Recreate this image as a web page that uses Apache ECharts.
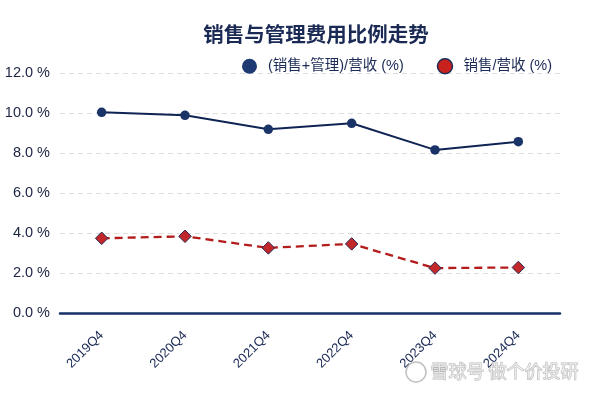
<!DOCTYPE html>
<html><head><meta charset="utf-8">
<script src="https://cdn.jsdelivr.net/npm/echarts@6/dist/echarts.min.js"></script>
<style>html,body{margin:0;padding:0;background:#fff}#c{width:599px;height:394px}</style>
</head><body><div id="c"></div>
<script>
var categories = ['2019Q4','2020Q4','2021Q4','2022Q4','2023Q4','2024Q4'];
var totalRatio = [10.05, 9.9, 9.2, 9.5, 8.17, 8.58];
var salesRatio = [3.75, 3.85, 3.27, 3.47, 2.26, 2.29];
var yTicks = {min: 0, max: 12, interval: 2};
var seriesNames = ['(销售+管理)/营收 (%)', '销售/营收 (%)'];

var cjk = '"Noto Sans CJK SC", "Noto Sans", sans-serif';
var latin = '"Liberation Sans", "Noto Sans CJK SC", sans-serif';
var chart = echarts.init(document.getElementById('c'), null, {renderer: 'canvas'});
chart.setOption({
  animation: false,
  backgroundColor: '#ffffff',
  title: {
    text: '销售与管理费用比例走势',
    left: 311, top: 19, textAlign: 'center',
    textStyle: {fontFamily: cjk, fontSize: 20.5, fontWeight: 'bold', color: '#1b2a55'}
  },
  legend: {
    top: 53, left: 237,
    itemGap: 33, itemWidth: 15, itemHeight: 15,
    textStyle: {fontFamily: latin, fontSize: 14.5, color: '#1b2a55', padding: [0,0,0,6]},
    data: [
      {name: seriesNames[0], icon: 'circle', itemStyle: {color: '#1e3a72', borderWidth: 0}},
      {name: seriesNames[1], icon: 'circle', itemStyle: {color: '#c9211e', borderColor: '#1b2a55', borderWidth: 1.5}}
    ]
  },
  grid: {left: 60, right: 39, top: 73.3, bottom: 80.7},
  xAxis: {
    type: 'category', data: categories, boundaryGap: true,
    axisLine: {lineStyle: {color: '#16306a', width: 2.5}},
    axisTick: {show: false},
    axisLabel: {rotate: 45, fontFamily: latin, fontSize: 13, color: '#1b2a55', margin: 20}
  },
  yAxis: {
    type: 'value', min: yTicks.min, max: yTicks.max, interval: yTicks.interval,
    axisLine: {show: false}, axisTick: {show: false},
    axisLabel: {fontFamily: latin, fontSize: 14.5, color: '#1b2540', margin: 10,
      formatter: function(v){ return v.toFixed(1) + ' %'; }},
    splitLine: {lineStyle: {color: '#dcdcdc', type: [5,4], width: 1}}
  },
  series: [
    {
      name: seriesNames[0], type: 'line', data: totalRatio,
      symbol: 'circle', symbolSize: 9.5,
      lineStyle: {color: '#0f2454', width: 2},
      itemStyle: {color: '#1b3468'}
    },
    {
      name: seriesNames[1], type: 'line', data: salesRatio,
      symbol: 'diamond', symbolSize: 12.5,
      lineStyle: {color: '#b41c1c', width: 2.3, type: [8,5]},
      itemStyle: {color: '#c2272a', borderColor: '#2b2a55', borderWidth: 1}
    }
  ],
  graphic: [
    {type: 'circle', z: 100, shape: {cx: 416, cy: 372, r: 10}, style: {fill: 'rgba(255,255,255,0.5)', stroke: 'rgba(140,140,140,0.55)', lineWidth: 1.5}},
    {type: 'text', z: 100, left: 430, top: 362, style: {text: '雪球号 做个价投研', fontFamily: cjk, fontSize: 18, fill: 'rgba(255,255,255,0.55)', stroke: 'rgba(140,140,140,0.6)', lineWidth: 1}}
  ]
});
</script></body></html>
